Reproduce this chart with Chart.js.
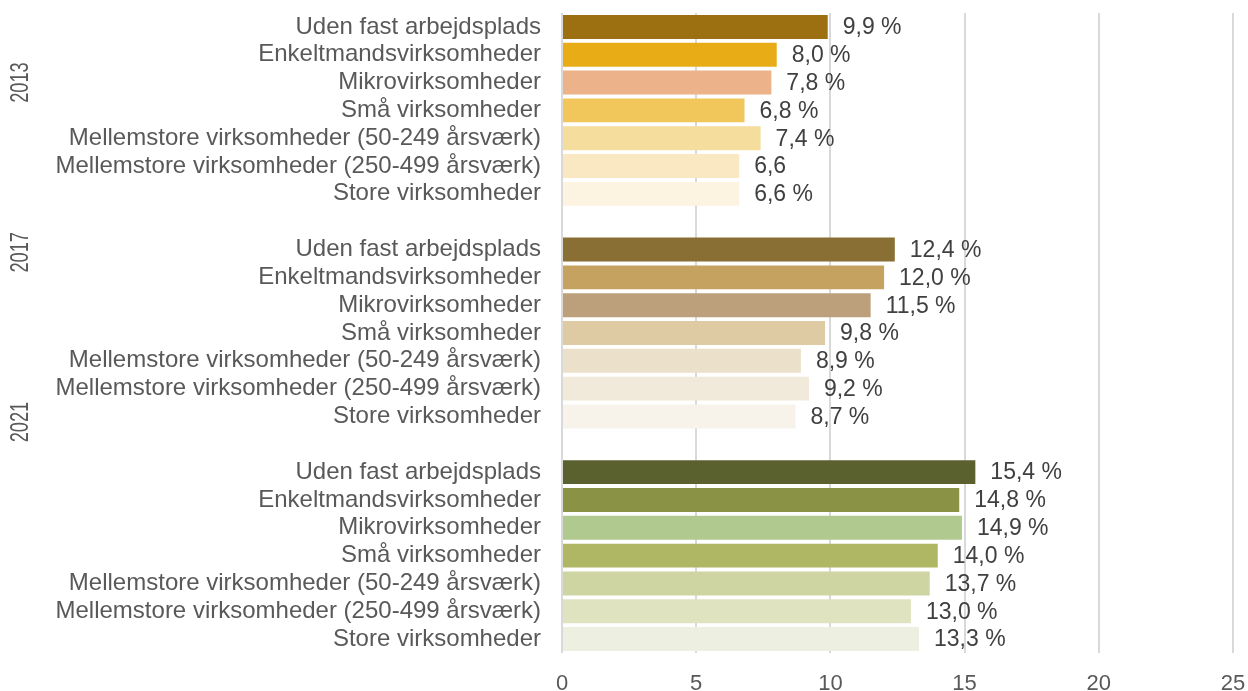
<!DOCTYPE html>
<html>
<head>
<meta charset="utf-8">
<script src="https://cdn.jsdelivr.net/npm/chart.js@4.4.1/dist/chart.umd.min.js"></script>
<style>
  html, body { margin: 0; padding: 0; background: #fff; }
  #wrap { width: 1248px; height: 691px; }
</style>
</head>
<body>
<div id="wrap"><canvas id="barChart"></canvas></div>
<script>
// data
var years = ["2013", "2017", "2021"];
var categories = [
  "Uden fast arbejdsplads",
  "Enkeltmandsvirksomheder",
  "Mikrovirksomheder",
  "Små virksomheder",
  "Mellemstore virksomheder (50-249 årsværk)",
  "Mellemstore virksomheder (250-499 årsværk)",
  "Store virksomheder"
];
var values2013 = [9.9, 8.0, 7.8, 6.8, 7.4, 6.6, 6.6];
var values2017 = [12.4, 12.0, 11.5, 9.8, 8.9, 9.2, 8.7];
var values2021 = [15.4, 14.8, 14.9, 14.0, 13.7, 13.0, 13.3];
var labels2013 = ["9,9 %", "8,0 %", "7,8 %", "6,8 %", "7,4 %", "6,6", "6,6 %"];
var labels2017 = ["12,4 %", "12,0 %", "11,5 %", "9,8 %", "8,9 %", "9,2 %", "8,7 %"];
var labels2021 = ["15,4 %", "14,8 %", "14,9 %", "14,0 %", "13,7 %", "13,0 %", "13,3 %"];
var colors2013 = ["#9C7010", "#E8AC17", "#ECB28A", "#F1C75C", "#F5DD9E", "#F9E8C1", "#FCF3E0"];
var colors2017 = ["#8A6F35", "#C5A25F", "#BCA07B", "#DECBA3", "#EBE0CA", "#F1E9DA", "#F7F3EB"];
var colors2021 = ["#5B612E", "#8A9245", "#B0C98E", "#AFB764", "#CED5A2", "#DFE3C0", "#EDF0E0"];
var xTicks = [0, 5, 10, 15, 20, 25];

// build rows with an empty row between the year groups
var rowLabels = [], rowValues = [], rowColors = [], rowTexts = [];
var groups = [
  [values2013, colors2013, labels2013],
  [values2017, colors2017, labels2017],
  [values2021, colors2021, labels2021]
];
groups.forEach(function(g, gi){
  if (gi > 0) { rowLabels.push(""); rowValues.push(null); rowColors.push("#fff"); rowTexts.push(""); }
  for (var i = 0; i < categories.length; i++) {
    rowLabels.push(categories[i]);
    rowValues.push(g[0][i]);
    rowColors.push(g[1][i]);
    rowTexts.push(g[2][i]);
  }
});

var valueLabels = {
  id: 'valueLabels',
  afterDatasetsDraw: function(chart){
    var ctx = chart.ctx;
    var meta = chart.getDatasetMeta(0);
    ctx.save();
    ctx.font = '23px "Liberation Sans", Arial, sans-serif';
    ctx.fillStyle = '#404040';
    ctx.textBaseline = 'middle';
    ctx.textAlign = 'left';
    meta.data.forEach(function(bar, i){
      if (rowValues[i] == null) return;
      ctx.fillText(rowTexts[i], bar.x + 15, bar.y + 1);
    });
    ctx.restore();
  }
};

var yearLabels = {
  id: 'yearLabels',
  afterDraw: function(chart){
    var ctx = chart.ctx;
    var yScale = chart.scales.y;
    var pos = [2, 8.1, 14.2];
    ctx.save();
    ctx.font = '25px "Liberation Sans", Arial, sans-serif';
    ctx.fillStyle = '#595959';
    ctx.textAlign = 'center';
    ctx.textBaseline = 'middle';
    years.forEach(function(y, i){
      ctx.save();
      ctx.translate(21, yScale.getPixelForValue(pos[i]));
      ctx.rotate(-Math.PI / 2);
      ctx.scale(0.73, 1);
      ctx.fillText(y, 0, 0);
      ctx.restore();
    });
    ctx.restore();
  }
};

window.onload = function(){
  var ctx = document.getElementById("barChart").getContext('2d');
  var myBarChart = new Chart(ctx, {
    type: 'bar',
    data: {
      labels: rowLabels,
      datasets: [{
        data: rowValues,
        backgroundColor: rowColors,
        barPercentage: 0.86,
        categoryPercentage: 1.0
      }]
    },
    options: {
      indexAxis: 'y',
      responsive: true,
      maintainAspectRatio: false,
      animation: false,
      layout: { padding: { top: 13, right: 15, left: 0, bottom: 0 } },
      plugins: { legend: { display: false }, tooltip: { enabled: false } },
      scales: {
        x: {
          min: 0,
          max: 25,
          afterBuildTicks: function(scale){
            scale.ticks = xTicks.map(function(v){ return { value: v }; });
          },
          afterFit: function(scale){ scale.height = 38; scale.paddingLeft = 0; scale.paddingRight = 0; },
          grid: { color: '#d9d9d9', lineWidth: 2, drawTicks: false },
          border: { display: false },
          ticks: {
            padding: 18,
            color: '#595959',
            font: { family: '"Liberation Sans", Arial, sans-serif', size: 22 }
          }
        },
        y: {
          afterFit: function(scale){ scale.width = 562; scale.paddingTop = 0; scale.paddingBottom = 0; },
          grid: { display: false, drawTicks: false },
          border: { display: false },
          ticks: {
            padding: 21,
            autoSkip: false,
            color: '#595959',
            font: { family: '"Liberation Sans", Arial, sans-serif', size: 24 }
          }
        }
      }
    },
    plugins: [valueLabels, yearLabels]
  });
};
</script>
</body>
</html>
